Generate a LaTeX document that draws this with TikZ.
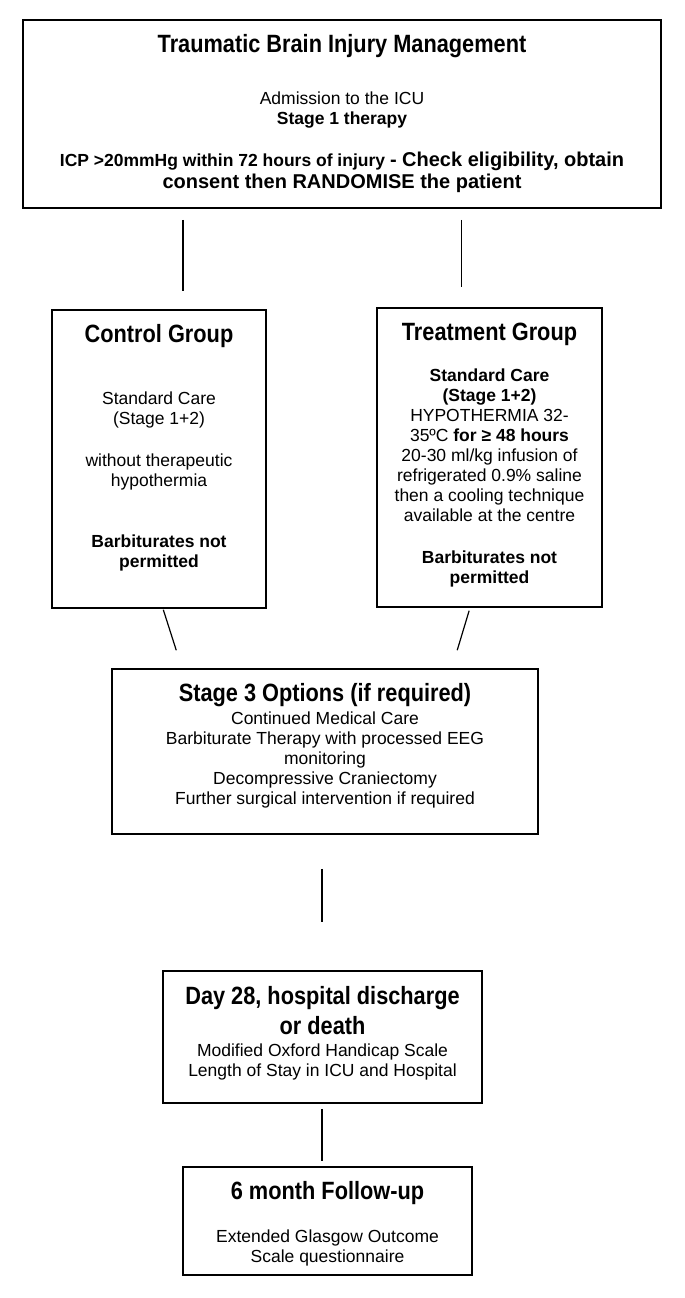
\documentclass[tikz,border=0pt]{standalone}
\usepackage{fontspec}
\setmainfont{Liberation Sans}
\newfontfamily\condfont[FakeStretch=0.87]{Liberation Sans}
\newcommand{\tfont}{\condfont\bfseries\fontsize{25}{30}\selectfont}
\newcommand{\bodyfont}{\fontsize{17.5}{20}\selectfont\lineskiplimit=-100pt\relax}
\usetikzlibrary{positioning}

\begin{document}
\begin{tikzpicture}[x=1pt, y=-1pt,
  box/.style={draw=black, line width=1.6pt, inner sep=0pt},
  txt/.style={align=center, inner sep=0pt, font=\bodyfont},
  link/.style={draw=black, line width=1.2pt}]
        \useasboundingbox (0,0) rectangle (685,1298);
        \node [box, minimum width=638pt, minimum height=188pt] (top) at (342,114) {};
        \node [box, minimum width=214pt, minimum height=298pt] (ctl) at (159,459) {};
        \node [box, minimum width=225pt, minimum height=299pt] (trt) at (489.5,457.5) {};
        \node [box, minimum width=426pt, minimum height=165pt] (opt) at (325,751.5) {};
        \node [box, minimum width=319pt, minimum height=132pt] (day) at (322.5,1037) {};
        \node [box, minimum width=289pt, minimum height=108pt] (fu) at (327.5,1221) {};
        \node [txt, below=15pt of top.north] (toptext) {{\tfont Traumatic Brain Injury Management}\\[32pt]
          Admission to the ICU\\
          \textbf{Stage 1 therapy}\\[22pt]
          \textbf{ICP >20mmHg within 72 hours of injury {\fontsize{20}{22}\selectfont - Check eligibility, obtain}}\\[2pt]
          {\fontsize{20}{22}\selectfont\bfseries consent then RANDOMISE the patient}};
        \node [txt, below=15pt of ctl.north] (ctltext) {{\tfont Control Group}\\[42pt]
          Standard Care\\
          (Stage 1+2)\\[22pt]
          without therapeutic\\
          hypothermia\\[41pt]
          \textbf{Barbiturates not}\\
          \textbf{permitted}};
        \node [txt, below=16pt of trt.north] (trttext) {{\tfont Treatment Group}\\[21pt]
          \textbf{Standard Care}\\
          \textbf{(Stage 1+2)}\\
          HYPOTHERMIA 32-\\
          35ºC \textbf{for ≥ 48 hours}\\
          20-30 ml/kg infusion of\\
          refrigerated 0.9\% saline\\
          then a cooling technique\\
          available at the centre\\[22pt]
          \textbf{Barbiturates not}\\
          \textbf{permitted}};
        \node [txt, below=15pt of opt.north] (opttext) {{\tfont Stage 3 Options (if required)}\\[3pt]
          Continued Medical Care\\
          Barbiturate Therapy with processed EEG\\
          monitoring\\
          Decompressive Craniectomy\\
          Further surgical intervention if required};
        \node [txt, below=16pt of day.north] (daytext) {{\tfont Day 28, hospital discharge}\\[10pt]
          {\tfont or death}\\[2pt]
          Modified Oxford Handicap Scale\\
          Length of Stay in ICU and Hospital};
        \node [txt, below=15pt of fu.north] (futext) {{\tfont 6 month Follow-up}\\[23pt]
          Extended Glasgow Outcome\\
          Scale questionnaire};
        \draw [link, shorten <=11pt, shorten >=18pt] ([xshift=-159pt]top.south) -- ([xshift=24pt]ctl.north);
        \draw [link, shorten <=11pt, shorten >=20pt] ([xshift=119.5pt]top.south) -- ([xshift=-28pt]trt.north);
        \draw [link, shorten <=1pt, shorten >=18.8pt] ([xshift=4pt]ctl.south) -- ([xshift=-143pt]opt.north);
        \draw [link, shorten <=3pt, shorten >=18.8pt] ([xshift=-19.5pt]trt.south) -- ([xshift=126.8pt]opt.north);
        \draw [link, shorten <=34pt, shorten >=48pt] ([xshift=-3pt]opt.south) -- ([xshift=-0.5pt]day.north);
        \draw [link, shorten <=5pt, shorten >=5pt] ([xshift=-0.5pt]day.south) -- ([xshift=-5.5pt]fu.north);
\end{tikzpicture}
\end{document}
